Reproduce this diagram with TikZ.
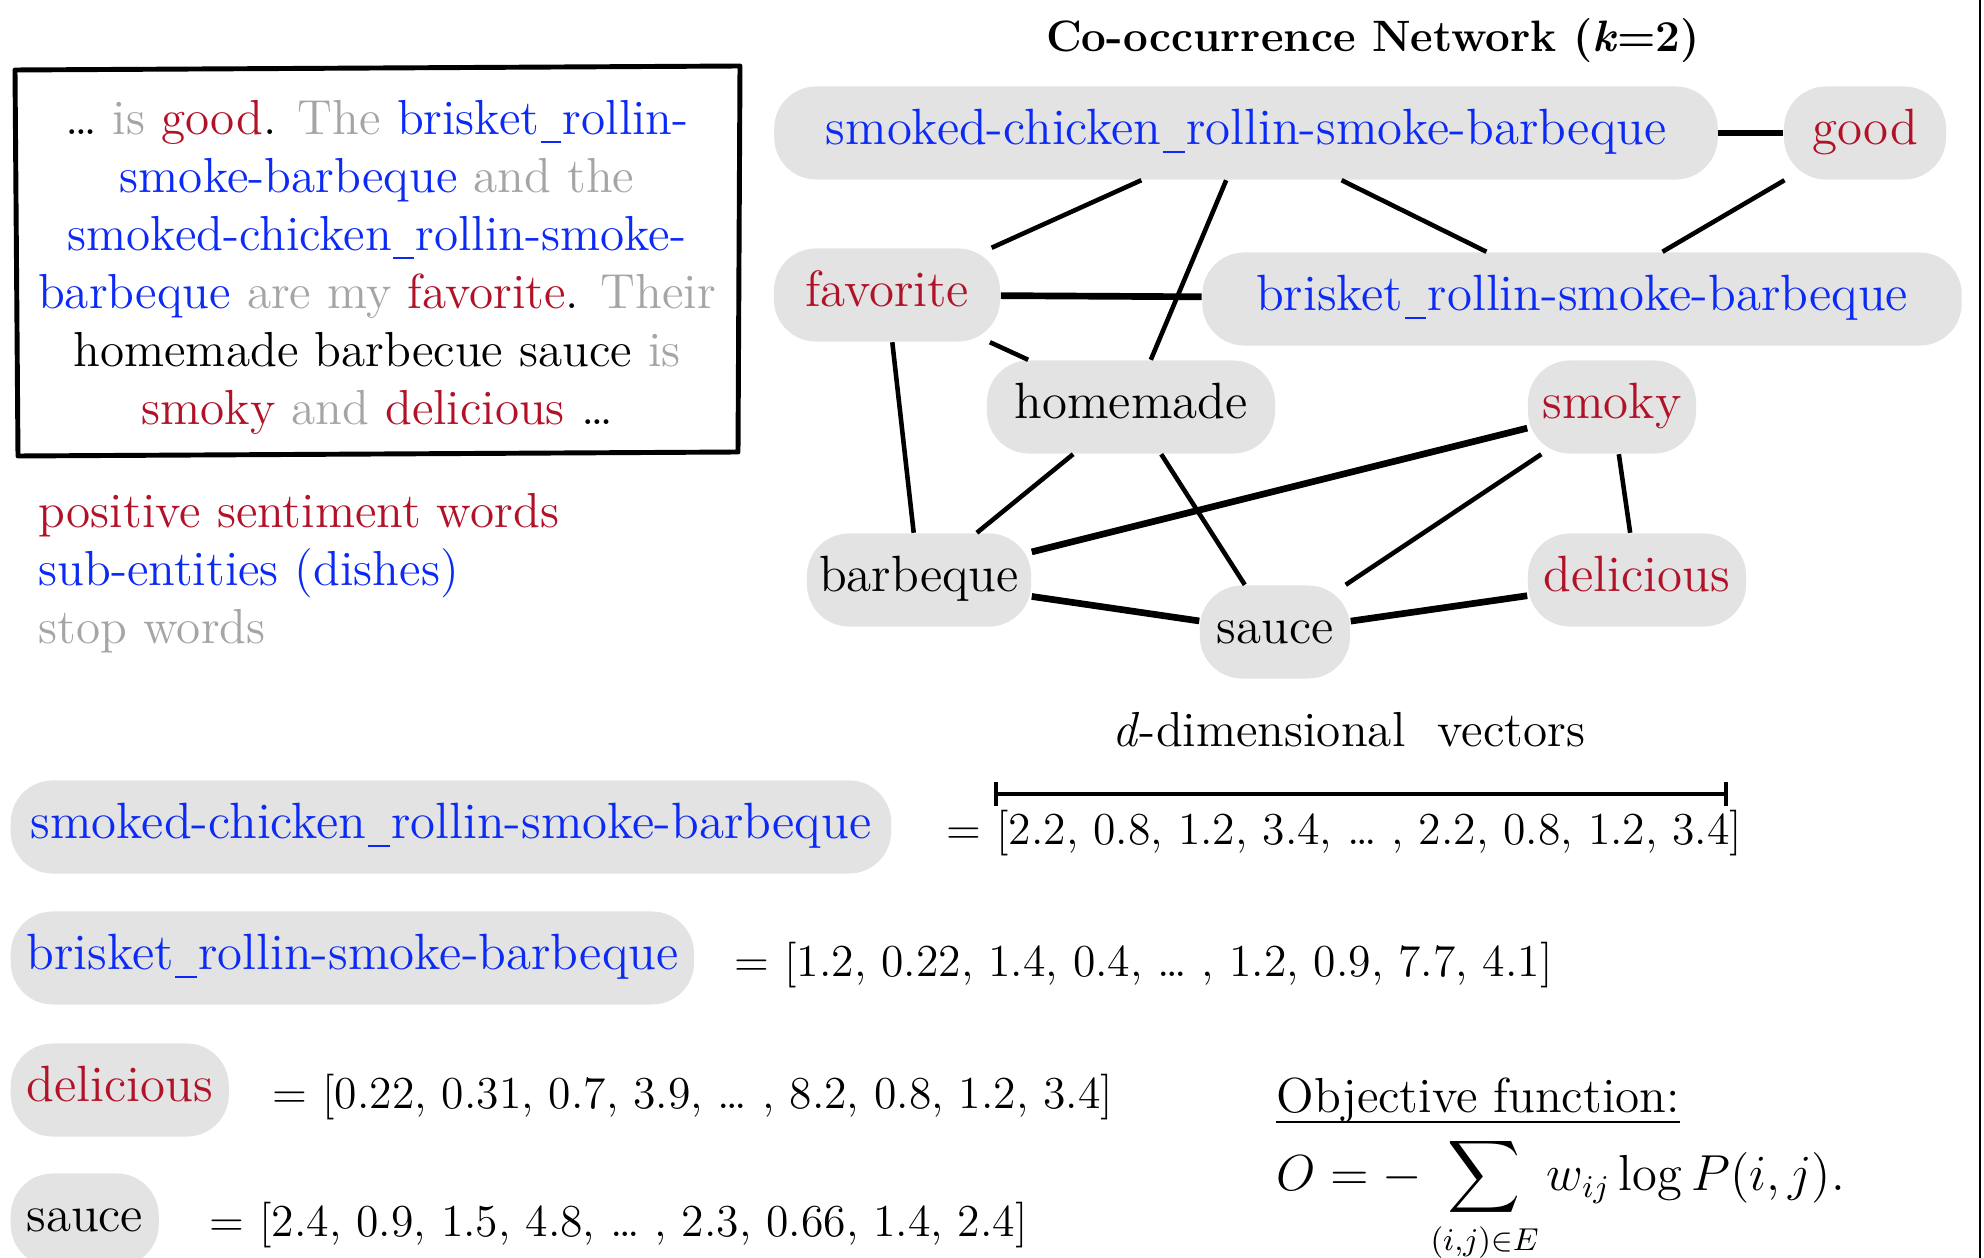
\documentclass[tikz,border=0pt]{standalone}
\usepackage{amsmath}
\definecolor{posred}{RGB}{178,18,40}
\definecolor{dishblue}{RGB}{12,42,245}
\definecolor{stopgray}{RGB}{165,165,165}
\definecolor{nodegray}{RGB}{227,227,227}
\newcommand{\usc}{\kern.03em\rule[-.17em]{.42em}{.045em}\kern.03em}
\begin{document}
\begin{tikzpicture}[x=0.01cm, y=-0.01cm,
  every node/.style={font=\fontsize{14pt}{16.5pt}\selectfont},
  word/.style={fill=nodegray, rounded corners=0.42cm, minimum height=0.93cm, inner xsep=0pt, text height=0.9em, text depth=0.25em, font=\fontsize{14.5pt}{16.5pt}\selectfont},
  txt/.style={inner sep=0pt},
  vec/.style={inner sep=0pt, font=\fontsize{13pt}{16pt}\selectfont},
  link/.style={line width=1.3pt},
  blink/.style={line width=1.9pt}]
\useasboundingbox (0,0) rectangle (1984,1258);
\draw[line width=0.75pt] (1980,0) -- (1980,1258);
\draw[line width=1.4pt, line join=round, line cap=round] (15,70) -- (740,66) -- (738,452) -- (18,456) -- cycle;
\node[txt, align=center, anchor=base] (para) at (377,425){%
\ldots{} \textcolor{stopgray}{is} \textcolor{posred}{good}. \textcolor{stopgray}{The} \textcolor{dishblue}{brisket\usc rollin-}\\
\textcolor{dishblue}{smoke-barbeque} \textcolor{stopgray}{and the}\\
\textcolor{dishblue}{smoked-chicken\usc rollin-smoke-}\\
\textcolor{dishblue}{barbeque} \textcolor{stopgray}{are my} \textcolor{posred}{favorite}. \textcolor{stopgray}{Their}\\
homemade barbecue sauce \textcolor{stopgray}{is}\\
\textcolor{posred}{smoky} \textcolor{stopgray}{and} \textcolor{posred}{delicious} \ldots};
\node[txt, anchor=base west, text=posred] (leg0) at (38,528){positive sentiment words};
\node[txt, anchor=base west, text=dishblue] (leg1) at (38,586){sub-entities (dishes)};
\node[txt, anchor=base west, text=stopgray] (leg2) at (38,644){stop words};
\node[txt, anchor=base, font=\fontsize{12.5pt}{15pt}\selectfont] (title) at (1373,52){\bfseries Co-occurrence Network (\textit{k}=2)};
\node[word, minimum width=9.43cm, text=dishblue] (w0) at (1246,133){smoked-chicken\usc rollin-smoke-barbeque};
\node[word, minimum width=1.62cm, text=posred] (w1) at (1865,133){good};
\node[word, minimum width=2.26cm, text=posred] (w2) at (887,295){favorite};
\node[word, minimum width=7.59cm, text=dishblue] (w3) at (1582,299){brisket\usc rollin-smoke-barbeque};
\node[word, minimum width=2.88cm] (w4) at (1131,407){homemade};
\node[word, minimum width=1.68cm, text=posred] (w5) at (1612,407){smoky};
\node[word, minimum width=2.24cm] (w6) at (919,580){barbeque};
\node[word, minimum width=2.18cm, text=posred] (w7) at (1637,580){delicious};
\node[word, minimum width=1.50cm] (w8) at (1275,632){sauce};
\draw[blink](w0) -- (w1);
\draw[link](w0) -- (w2);
\draw[link](w0) -- (w4);
\draw[link](w0) -- (w3);
\draw[link](w1) -- (w3);
\draw[blink](w2) -- (w3);
\draw[link](w2) -- (w4);
\draw[link](w2) -- (w6);
\draw[link](w4) -- (w6);
\draw[link](w4) -- (w8);
\draw[blink](w5) -- (w6);
\draw[link](w5) -- (w8);
\draw[link](w5) -- (w7);
\draw[blink](w6) -- (w8);
\draw[blink](w8) -- (w7);
\node[txt, anchor=base] (dim) at (1349,747){\textit{d}-dimensional~ vectors};
\draw[line width=1.4pt] (996,782) -- (996,806) (996,794) -- (1726,794) (1726,782) -- (1726,806);
\node[word, minimum width=8.8cm, anchor=west, text=dishblue] (v0) at (10,827){smoked-chicken\usc rollin-smoke-barbeque};
\node[vec, anchor=base west] (e0) at (946,844){= [2.2, 0.8, 1.2, 3.4, \ldots\ , 2.2, 0.8, 1.2, 3.4]};
\node[word, minimum width=6.83cm, anchor=west, text=dishblue] (v1) at (10,958){brisket\usc rollin-smoke-barbeque};
\node[vec, anchor=base west] (e1) at (734,976){= [1.2, 0.22, 1.4, 0.4, \ldots\ , 1.2, 0.9, 7.7, 4.1]};
\node[word, minimum width=2.18cm, anchor=west, text=posred] (v2) at (10,1090){delicious};
\node[vec, anchor=base west] (e2) at (272,1108){= [0.22, 0.31, 0.7, 3.9, \ldots\ , 8.2, 0.8, 1.2, 3.4]};
\node[word, minimum width=1.48cm, anchor=west] (v3) at (10,1220){sauce};
\node[vec, anchor=base west] (e3) at (209,1236){= [2.4, 0.9, 1.5, 4.8, \ldots\ , 2.3, 0.66, 1.4, 2.4]};
\node[txt, anchor=base west] (obj) at (1276,1112){Objective function:};
\draw[line width=0.8pt] ([yshift=-0.1cm]obj.base west) -- ([yshift=-0.1cm]obj.base east);
\node[txt, anchor=base west, font=\fontsize{13.5pt}{16pt}\selectfont] (form) at (1276,1190){$\displaystyle O = -\sum_{(i,j)\in E} w_{ij}\log P(i,j).$};
\end{tikzpicture}
\end{document}
